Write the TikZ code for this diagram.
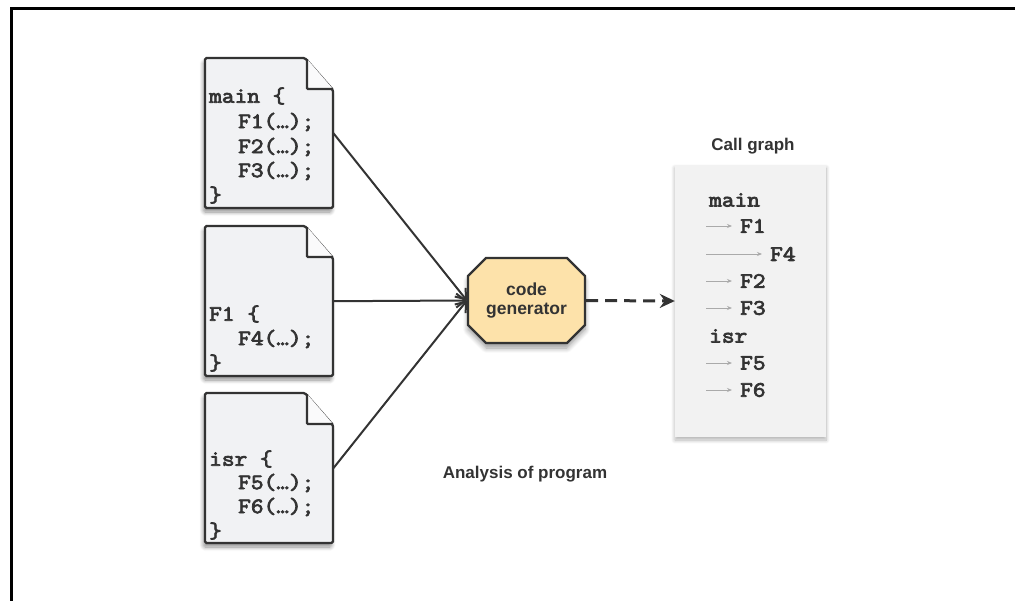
\documentclass[tikz,border=0pt]{standalone}
\usepackage{fontspec}
\setmainfont{Liberation Sans}
\newfontfamily\monof[FakeBold=3.5,FakeStretch=1.12]{Latin Modern Mono}
\usetikzlibrary{shapes.misc,arrows.meta,shadows.blur}
\definecolor{lineC}{HTML}{333333}
\definecolor{docC}{HTML}{F1F2F4}
\definecolor{foldC}{HTML}{FAFAFB}
\definecolor{genC}{HTML}{FDE2AA}
\definecolor{cgC}{HTML}{F2F2F2}
\definecolor{cgArrow}{HTML}{AAAAAA}
\newcommand\docpage[3]{%
  \path[docshape] (#2,#3) -- ++(100,0) -- ++(28,32) -- ++(0,118) -- ++(-128,0) -- cycle;
  \draw[foldline] (#2+102,#3+1) -- ++(0,30) -- ++(26,0);
  \node[minimum width=128pt, minimum height=150pt, inner sep=0pt, anchor=north west] (#1) at (#2,#3) {};
}
\begin{document}
\begin{tikzpicture}[x=1pt,y=-1pt,
  docshape/.style={draw=lineC, line width=2.3pt, fill=docC, rounded corners=1.5pt,
    blur shadow={shadow xshift=-1.5pt, shadow yshift=-4pt, shadow blur steps=8, shadow blur radius=4pt, shadow opacity=45}},
  foldline/.style={draw=lineC, line width=2.3pt, fill=foldC, rounded corners=1pt},
  code/.style={anchor=west, inner sep=0pt, text=lineC, font=\monof\fontsize{22}{24}\selectfont},
  lab/.style={inner sep=0pt, text=lineC, font=\bfseries\fontsize{17}{19}\selectfont},
  gen/.style={chamfered rectangle, chamfered rectangle xsep=9pt, chamfered rectangle ysep=9pt,
    draw=lineC, line width=2.3pt, fill=genC, minimum width=117pt, minimum height=85pt, inner sep=0pt,
    align=center, text=lineC, font=\bfseries\fontsize{17.5}{19.5}\selectfont,
    blur shadow={shadow xshift=0pt, shadow yshift=-5pt, shadow blur steps=8, shadow blur radius=5pt, shadow opacity=40}},
  cgbox/.style={fill=cgC, minimum width=151pt, minimum height=272pt, inner sep=0pt,
    blur shadow={shadow xshift=0pt, shadow yshift=-3pt, shadow blur steps=8, shadow blur radius=4pt, shadow opacity=30}},
  conn/.style={draw=lineC, line width=2pt, -{Straight Barb[length=9pt,width=14pt,line width=2pt]}},
  dconn/.style={draw=lineC, line width=3pt, dashed, dash pattern=on 12pt off 7pt,
    -{Stealth[length=15pt,width=14pt,inset=5pt]}},
  cga/.style={draw=cgArrow, line width=0.8pt, -{Stealth[length=5pt,width=4pt]}, shorten >=8pt}
]
\useasboundingbox (0,0) rectangle (1015,600);
\draw[line width=3pt, line cap=rect] (11,600) -- (11,8) -- (1015,8);

% documents
\docpage{d1}{205}{58}
\docpage{d2}{205}{226}
\docpage{d3}{205}{393}

\node[code] (t11) at (209,96) {main \{};
\node[code] (t12) at (238,122) {F1(…);};
\node[code] (t13) at (238,147) {F2(…);};
\node[code] (t14) at (238,171) {F3(…);};
\node[code] (t15) at (209,195) {\}};

\node[code] (t21) at (209,314) {F1 \{};
\node[code] (t22) at (238,339) {F4(…);};
\node[code] (t23) at (209,363) {\}};

\node[code] (t31) at (209,459) {isr \{};
\node[code] (t32) at (238,483) {F5(…);};
\node[code] (t33) at (238,507) {F6(…);};
\node[code] (t34) at (209,531) {\}};

% code generator
\node[gen] (gen) at (526.5,300.5) {code\\generator};

% call graph
\node[cgbox] (cg) at (750.5,301) {};
\node[lab] (cgt) at (753,146) {Call graph};
\node[code] (cmain) at (709,200) {main};
\node[code] (cf1) at (740,226) {F1};
\node[code] (cf4) at (770,254) {F4};
\node[code] (cf2) at (740,281) {F2};
\node[code] (cf3) at (740,308) {F3};
\node[code] (cisr) at (709,336) {isr};
\node[code] (cf5) at (740,363) {F5};
\node[code] (cf6) at (740,390) {F6};
\coordinate (a1) at (706,226);
\coordinate (a4) at (706,254);
\coordinate (a2) at (706,281);
\coordinate (a3) at (706,308);
\coordinate (a5) at (706,363);
\coordinate (a6) at (706,390);
\draw[cga] (a1) -- (cf1.west);
\draw[cga] (a4) -- (cf4.west);
\draw[cga] (a2) -- (cf2.west);
\draw[cga] (a3) -- (cf3.west);
\draw[cga] (a5) -- (cf5.west);
\draw[cga] (a6) -- (cf6.west);

\node[lab] (ana) at (525,474) {Analysis of program};

% connectors
\draw[conn] (d1.east) -- (gen.west);
\draw[conn] (d2.east) -- (gen.west);
\draw[conn] (d3.east) -- (gen.west);
\draw[dconn] (gen.east) -- (cg.west);
\end{tikzpicture}
\end{document}
